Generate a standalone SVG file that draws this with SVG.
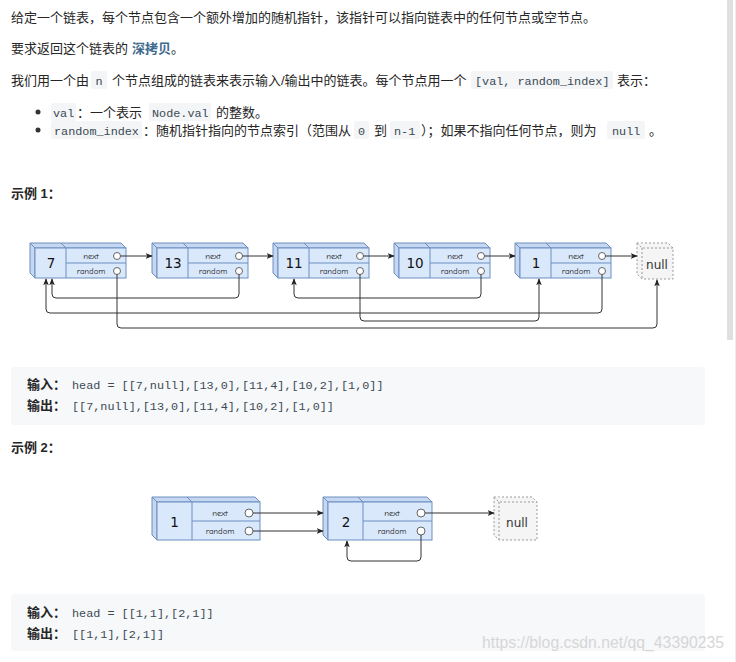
<svg xmlns="http://www.w3.org/2000/svg" width="736" height="662" viewBox="0 0 736 662">
<style>
.t{font-family:"Liberation Sans","Noto Sans CJK SC",sans-serif;font-size:13px;fill:#262626}
.b{font-weight:bold}
.m{font-family:"Liberation Mono","DejaVu Sans Mono",monospace;font-size:11.8px;fill:#3b4a54}
.cb{fill:#f3f5f7}
.blk{fill:#f7f8fa}
.front{fill:#dae8fc;stroke:#6c8ebf;stroke-width:1}
.side{fill:#c6d8f1;stroke:#6c8ebf;stroke-width:1;stroke-linejoin:round}
.div{stroke:#6c8ebf;stroke-width:1;fill:none}
.circ{fill:#fff;stroke:#666;stroke-width:1}
.nf{font-family:"Comic Neue","DejaVu Sans",sans-serif;font-size:8.6px;fill:#222;text-anchor:middle}
.val{font-family:"DejaVu Sans",sans-serif;font-size:13.5px;fill:#111;text-anchor:middle}
.nullf{fill:#f5f5f5;stroke:#999;stroke-width:1;stroke-dasharray:2 2}
.nullt{font-family:"DejaVu Sans",sans-serif;font-size:12px;fill:#333;text-anchor:middle}
.e{fill:none;stroke:#333;stroke-width:1;marker-end:url(#ah)}
</style>
<defs>
<marker id="ah" viewBox="0 0 10 10" refX="9" refY="5" markerWidth="7" markerHeight="7" markerUnits="userSpaceOnUse" orient="auto">
<path d="M0,1 L10,5 L0,9 L2.5,5 Z" fill="#222"/>
</marker>
</defs>
<rect width="736" height="662" fill="#fff"/>
<rect x="727" y="0" width="6" height="340" fill="#dfdfdf"/>
<rect x="735" y="0" width="1" height="662" fill="#ececec"/>

<g id="intro">
<text class="t" x="11" y="22">给定一个链表，每个节点包含一个额外增加的随机指针，该指针可以指向链表中的任何节点或空节点。</text>
<text class="t" x="11" y="53">要求返回这个链表的</text>
<text class="t b" x="132" y="53" style="fill:#3e6b8e">深拷贝</text>
<text class="t" x="171" y="53">。</text>
<text class="t" x="11" y="85">我们用一个由</text>
<rect class="cb" x="91" y="71" width="16" height="18" rx="2"/>
<text class="m" x="95.5" y="84.5">n</text>
<text class="t" x="112" y="85">个节点组成的链表来表示输入/输出中的链表。每个节点用一个</text>
<rect class="cb" x="471" y="71" width="142" height="18" rx="2"/>
<text class="m" x="475" y="84.5">[val, random_index]</text>
<text class="t" x="617" y="85">表示：</text>
<circle cx="38" cy="112" r="2.5" fill="#333"/>
<rect class="cb" x="51" y="103" width="25" height="18" rx="2"/>
<text class="m" x="53" y="116.5">val</text>
<text class="t" x="77" y="117">：一个表示</text>
<rect class="cb" x="149" y="103" width="62" height="18" rx="2"/>
<text class="m" x="152" y="116.5">Node.val</text>
<text class="t" x="216" y="117">的整数。</text>
<circle cx="38" cy="130" r="2.5" fill="#333"/>
<rect class="cb" x="51" y="121" width="91" height="18" rx="2"/>
<text class="m" x="54" y="134.5">random_index</text>
<text class="t" x="143" y="135">：随机指针指向的节点索引（范围从</text>
<rect class="cb" x="354" y="121" width="15" height="18" rx="2"/>
<text class="m" x="358" y="134.5">0</text>
<text class="t" x="374" y="135">到</text>
<rect class="cb" x="390" y="121" width="30" height="18" rx="2"/>
<text class="m" x="394" y="134.5">n-1</text>
<text class="t" x="421" y="135">）；如果不指向任何节点，则为</text>
<rect class="cb" x="607" y="121" width="38" height="18" rx="2"/>
<text class="m" x="612" y="134.5">null</text>
<text class="t" x="649" y="135">。</text>
<text class="t b" x="11" y="198">示例 1：</text>
<text class="t b" x="11" y="452">示例 2：</text>
</g>

<g id="n7">
<polygon class="side" points="30,243 121,243 126,248 35,248"/>
<polygon class="side" points="30,243 35,248 35,278 30,273"/>
<rect class="front" x="35" y="248" width="91" height="30"/>
<path class="div" d="M61,243 L66,248 V278 M66,263 H126"/>
<text class="val" x="51" y="268">7</text>
<text class="nf" x="91" y="259">next</text>
<text class="nf" x="91" y="274">random</text>
<circle class="circ" cx="117" cy="256" r="3.5"/>
<circle class="circ" cx="117" cy="271" r="3.5"/>
</g>
<g id="n13">
<polygon class="side" points="152,243 243,243 248,248 157,248"/>
<polygon class="side" points="152,243 157,248 157,278 152,273"/>
<rect class="front" x="157" y="248" width="91" height="30"/>
<path class="div" d="M183,243 L188,248 V278 M188,263 H248"/>
<text class="val" x="173" y="268">13</text>
<text class="nf" x="213" y="259">next</text>
<text class="nf" x="213" y="274">random</text>
<circle class="circ" cx="239" cy="256" r="3.5"/>
<circle class="circ" cx="239" cy="271" r="3.5"/>
</g>
<g id="n11">
<polygon class="side" points="273,243 364,243 369,248 278,248"/>
<polygon class="side" points="273,243 278,248 278,278 273,273"/>
<rect class="front" x="278" y="248" width="91" height="30"/>
<path class="div" d="M304,243 L309,248 V278 M309,263 H369"/>
<text class="val" x="294" y="268">11</text>
<text class="nf" x="334" y="259">next</text>
<text class="nf" x="334" y="274">random</text>
<circle class="circ" cx="360" cy="256" r="3.5"/>
<circle class="circ" cx="360" cy="271" r="3.5"/>
</g>
<g id="n10">
<polygon class="side" points="394,243 485,243 490,248 399,248"/>
<polygon class="side" points="394,243 399,248 399,278 394,273"/>
<rect class="front" x="399" y="248" width="91" height="30"/>
<path class="div" d="M425,243 L430,248 V278 M430,263 H490"/>
<text class="val" x="415" y="268">10</text>
<text class="nf" x="455" y="259">next</text>
<text class="nf" x="455" y="274">random</text>
<circle class="circ" cx="481" cy="256" r="3.5"/>
<circle class="circ" cx="481" cy="271" r="3.5"/>
</g>
<g id="n1">
<polygon class="side" points="515,243 606,243 611,248 520,248"/>
<polygon class="side" points="515,243 520,248 520,278 515,273"/>
<rect class="front" x="520" y="248" width="91" height="30"/>
<path class="div" d="M546,243 L551,248 V278 M551,263 H611"/>
<text class="val" x="536" y="268">1</text>
<text class="nf" x="576" y="259">next</text>
<text class="nf" x="576" y="274">random</text>
<circle class="circ" cx="602" cy="256" r="3.5"/>
<circle class="circ" cx="602" cy="271" r="3.5"/>
</g>
<g id="null1">
<path class="nullf" d="M637,243 H668 L673,248 V279 H642 L637,274 Z"/>
<path class="nullf" d="M637,243 L642,248 H673 M642,248 V279" fill="none"/>
<text class="nullt" x="657" y="269">null</text>
</g>

<g id="e2n1">
<polygon class="side" points="152,497 255,497 260,502 157,502"/>
<polygon class="side" points="152,497 157,502 157,540 152,535"/>
<rect class="front" x="157" y="502" width="103" height="38"/>
<path class="div" d="M187,497 L192,502 V540 M192,521 H260"/>
<text class="val" x="174.5" y="527">1</text>
<text class="nf" x="220" y="516">next</text>
<text class="nf" x="220" y="534">random</text>
<circle class="circ" cx="249" cy="513" r="4"/>
<circle class="circ" cx="249" cy="531" r="4"/>
</g>
<g id="e2n2">
<polygon class="side" points="323,497 427,497 432,502 328,502"/>
<polygon class="side" points="323,497 328,502 328,540 323,535"/>
<rect class="front" x="328" y="502" width="104" height="38"/>
<path class="div" d="M358,497 L363,502 V540 M363,521 H432"/>
<text class="val" x="346" y="527">2</text>
<text class="nf" x="392" y="516">next</text>
<text class="nf" x="392" y="534">random</text>
<circle class="circ" cx="421" cy="513" r="4"/>
<circle class="circ" cx="421" cy="531" r="4"/>
</g>
<g id="null2">
<path class="nullf" d="M494,497 H532 L537,502 V540 H499 L494,535 Z"/>
<path class="nullf" d="M494,497 L499,502 H537 M499,502 V540" fill="none"/>
<text class="nullt" x="517" y="527">null</text>
</g>

<g id="connectors">
<path class="e" d="M120.5,256 H152"/>
<path class="e" d="M242.5,256 H273"/>
<path class="e" d="M363.5,256 H394"/>
<path class="e" d="M484.5,256 H515"/>
<path class="e" d="M605.5,256 H637"/>
<path class="e" d="M239,274.5 V294 Q239,298 235,298 H56 Q52,298 52,294 V279"/>
<path class="e" d="M117,274.5 V324 Q117,328 121,328 H653 Q657,328 657,324 V280"/>
<path class="e" d="M360,274.5 V317 Q360,321 364,321 H535 Q539,321 539,317 V279"/>
<path class="e" d="M481,274.5 V294 Q481,298 477,298 H298 Q294,298 294,294 V279"/>
<path class="e" d="M602,274.5 V309 Q602,313 598,313 H50 Q46,313 46,309 V279"/>
<path class="e" d="M253,513 H323"/>
<path class="e" d="M253,531 H323"/>
<path class="e" d="M425,513 H494"/>
<path class="e" d="M421,535 V557 Q421,561 417,561 H351 Q347,561 347,557 V541"/>
</g>

<g id="code1">
<rect class="blk" x="11" y="367" width="694" height="58" rx="3"/>
<text class="t b" x="27" y="389">输入：</text>
<text class="m" x="72" y="389">head = [[7,null],[13,0],[11,4],[10,2],[1,0]]</text>
<text class="t b" x="27" y="410">输出：</text>
<text class="m" x="72" y="410">[[7,null],[13,0],[11,4],[10,2],[1,0]]</text>
</g>
<g id="code2">
<rect class="blk" x="11" y="594" width="694" height="57" rx="3"/>
<text class="t b" x="27" y="617">输入：</text>
<text class="m" x="72" y="617">head = [[1,1],[2,1]]</text>
<text class="t b" x="27" y="638">输出：</text>
<text class="m" x="72" y="638">[[1,1],[2,1]]</text>
</g>
<text x="482" y="648" textLength="242" lengthAdjust="spacingAndGlyphs" style="font-family:'Liberation Sans',sans-serif;font-size:16px;fill:#d6d6d6">https://blog.csdn.net/qq_43390235</text>
</svg>
